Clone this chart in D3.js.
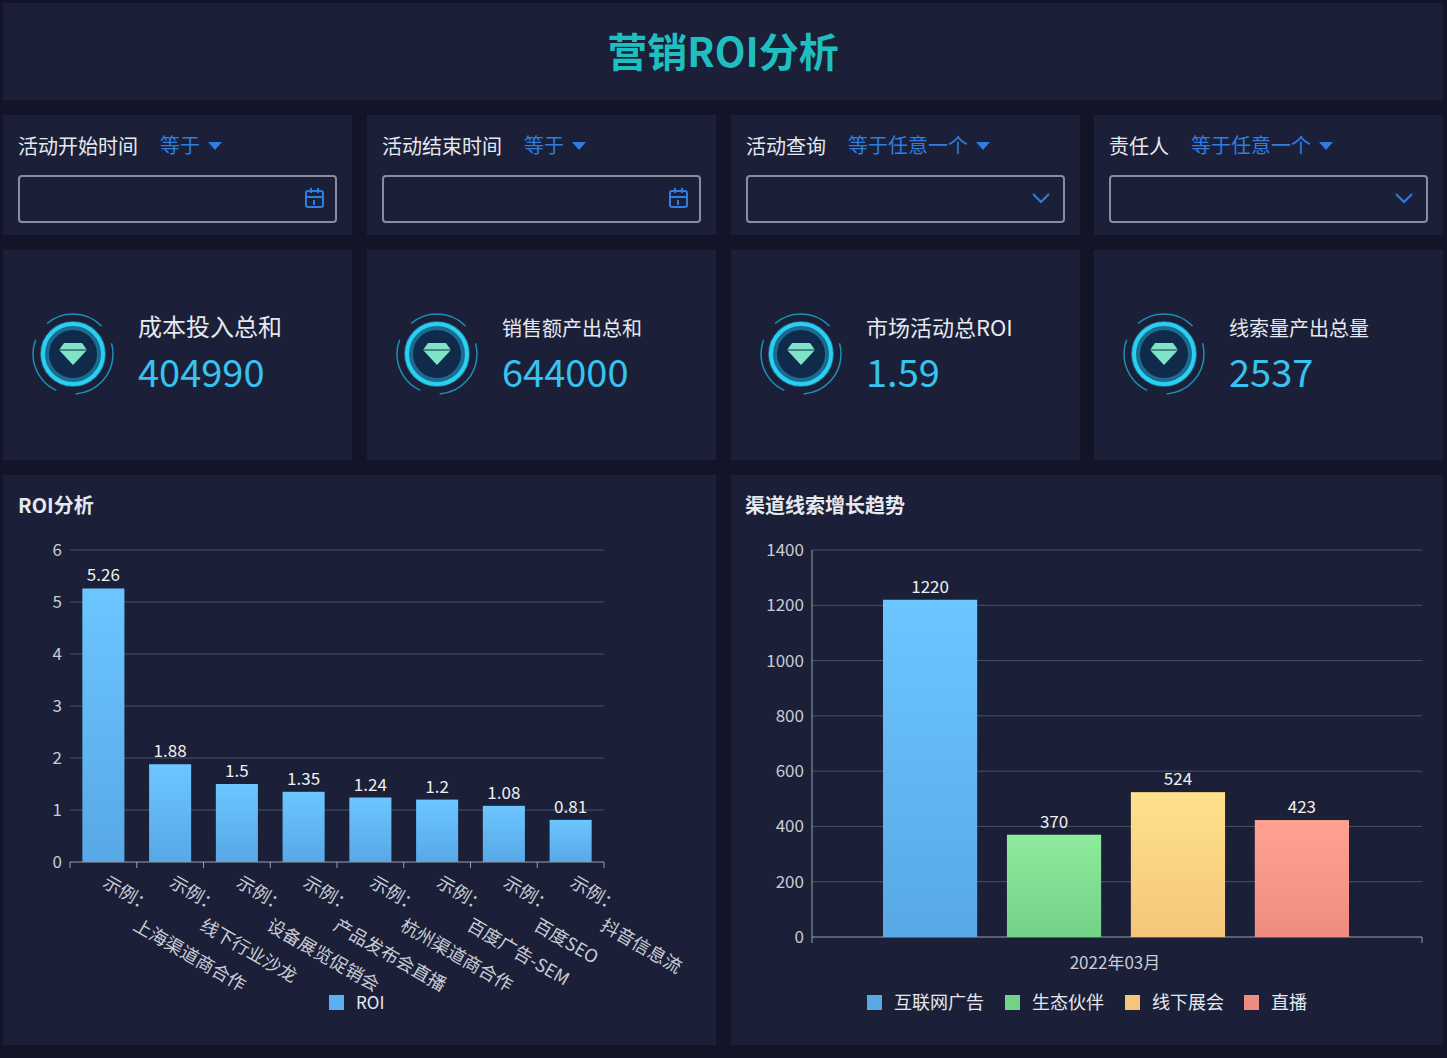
<!DOCTYPE html><html><head><meta charset="utf-8">
<script src="https://cdn.jsdelivr.net/npm/d3@7/dist/d3.min.js"></script>
<style>body{margin:0;background:#131427;font-family:"Noto Sans CJK SC","Noto Sans",sans-serif}</style></head><body>
<svg id="c" width="1447" height="1058"></svg>
<script>
const roiCats=["上海渠道商合作","线下行业沙龙","设备展览促销会","产品发布会直播","杭州渠道商合作","百度广告-SEM","百度SEO","抖音信息流"];
const roiVals=[5.26,1.88,1.5,1.35,1.24,1.2,1.08,0.81];
const roiTicks=[0,1,2,3,4,5,6];
const leadSeries=["互联网广告","生态伙伴","线下展会","直播"];
const leadVals=[1220,370,524,423];
const leadMonth=["2022年03月"];
const leadTicks=[0,200,400,600,800,1000,1200,1400];
const filters=[["活动开始时间","等于","cal"],["活动结束时间","等于","cal"],["活动查询","等于任意一个","dd"],["责任人","等于任意一个","dd"]];
const kpis=[["成本投入总和","404990",24],["销售额产出总和","644000",20],["市场活动总ROI","1.59",22],["线索量产出总量","2537",20]];
const colors=[["#6cc6ff","#58a8e6"],["#8eea9c","#72d288"],["#ffe18c","#f4c679"],["#ffa291","#ee8d7f"]];

const svg=d3.select("#c");
const panel="#1b2038";
const defs=svg.append("defs");
colors.forEach((c,i)=>{const g=defs.append("linearGradient").attr("id","g"+i).attr("x1",0).attr("y1",0).attr("x2",0).attr("y2",1);
g.append("stop").attr("offset",0).attr("stop-color",c[0]);g.append("stop").attr("offset",1).attr("stop-color",c[1]);});
svg.append("rect").attr("x",3).attr("y",3).attr("width",1440).attr("height",97).attr("fill",panel);
svg.append("text").attr("x",723).attr("y",67).attr("text-anchor","middle").attr("fill","#1fbfbf").attr("font-size",40).attr("font-weight","bold").text("营销ROI分析");
const colX=[3,367,731,1094],colW=349;
filters.forEach((f,i)=>{const x=colX[i];
svg.append("rect").attr("x",x).attr("y",115).attr("width",colW).attr("height",120).attr("fill",panel);
const t=svg.append("text").attr("x",x+15).attr("y",154).attr("font-size",20).attr("fill","#e6e8ef").text(f[0]);
const w=t.node().getComputedTextLength();
const t2=svg.append("text").attr("x",x+15+w+22).attr("y",153).attr("font-size",20).attr("fill","#2f7de1").text(f[1]);
const w2=t2.node().getComputedTextLength();
const ax=x+15+w+22+w2+8;
svg.append("path").attr("d",`M${ax},142 l14,0 l-7,8 z`).attr("fill","#2f7de1");
svg.append("rect").attr("x",x+16).attr("y",176).attr("width",317).attr("height",46).attr("rx",3).attr("fill","none").attr("stroke","#8a8e9c").attr("stroke-width",2);
if(f[2]=="cal"){const cx=x+303,cy=191;svg.append("rect").attr("x",cx).attr("y",cy).attr("width",17).attr("height",16).attr("rx",2).attr("fill","none").attr("stroke","#2f7de1").attr("stroke-width",2);
svg.append("path").attr("d",`M${cx},${cy+6}h17M${cx+5},${cy-3}v5M${cx+12},${cy-3}v5M${cx+8},${cy+9}v5`).attr("stroke","#2f7de1").attr("stroke-width",2);}
else svg.append("path").attr("d",`M${x+302},194 l8,8 l8,-8`).attr("fill","none").attr("stroke","#2f7de1").attr("stroke-width",2);
});
kpis.forEach((k,i)=>{const x=colX[i];
svg.append("rect").attr("x",x).attr("y",250).attr("width",colW).attr("height",210).attr("fill",panel);
const cx=x+70,cy=354;
svg.append("circle").attr("cx",cx).attr("cy",cy).attr("r",40).attr("fill","none").attr("stroke","#1a8fb8").attr("stroke-width",1.5).attr("stroke-dasharray","60 20");
svg.append("circle").attr("cx",cx).attr("cy",cy).attr("r",33).attr("fill","#1a6b8f");
svg.append("circle").attr("cx",cx).attr("cy",cy).attr("r",30).attr("fill","none").attr("stroke","#2ad0f0").attr("stroke-width",4);
svg.append("circle").attr("cx",cx).attr("cy",cy).attr("r",24).attr("fill","#0f2a4a");
svg.append("path").attr("d",`M${cx-14},${cy-4} l5,-7 h18 l5,7 l-14,15 z`).attr("fill","#7fe3c8");
svg.append("path").attr("d",`M${cx-14},${cy-4} h28`).attr("stroke","#0f2a4a").attr("stroke-width",1);
svg.append("text").attr("x",x+135).attr("y",336).attr("font-size",k[2]).attr("fill","#e6e8ef").text(k[0]);
svg.append("text").attr("x",x+135).attr("y",387).attr("font-size",38).attr("fill","#36c3ef").text(k[1]);
});
// panels
[[3,713],[731,712]].forEach(p=>svg.append("rect").attr("x",p[0]).attr("y",475).attr("width",p[1]).attr("height",570).attr("fill",panel));
svg.append("text").attr("x",18).attr("y",513).attr("font-size",20).attr("font-weight","bold").attr("fill","#e6e8ef").text("ROI分析");
svg.append("text").attr("x",745).attr("y",513).attr("font-size",20).attr("font-weight","bold").attr("fill","#e6e8ef").text("渠道线索增长趋势");
const axisCol="#9aa0ae",lab="#c8ccd6";
// left chart
const x1=d3.scaleBand().domain(roiCats).range([70,604]).paddingInner(0.37).paddingOuter(0.185);
const y1=d3.scaleLinear().domain([0,6]).range([862,550]);
const g1=svg.append("g");
roiTicks.forEach(t=>{ if(t>0) g1.append("line").attr("x1",70).attr("x2",604).attr("y1",y1(t)).attr("y2",y1(t)).attr("stroke","#4a5066");
g1.append("text").attr("x",62).attr("y",y1(t)+6).attr("text-anchor","end").attr("font-size",17).attr("fill",lab).text(t);});
g1.append("line").attr("x1",70).attr("x2",604).attr("y1",862).attr("y2",862).attr("stroke",axisCol);
const step=534/8;
for(let i=0;i<=8;i++) g1.append("line").attr("x1",70+i*step).attr("x2",70+i*step).attr("y1",862).attr("y2",868).attr("stroke",axisCol);
roiCats.forEach((c,i)=>{
g1.append("rect").attr("x",x1(c)).attr("y",y1(roiVals[i])).attr("width",x1.bandwidth()).attr("height",862-y1(roiVals[i])).attr("fill","url(#g0)");
g1.append("text").attr("x",x1(c)+x1.bandwidth()/2).attr("y",y1(roiVals[i])-7).attr("text-anchor","middle").attr("font-size",17).attr("fill","#f0f0f0").text(roiVals[i]);
const lx=70+step*(i+0.5)-2,ly=886;
const t=g1.append("text").attr("transform",`translate(${lx},${ly}) rotate(30)`).attr("font-size",18).attr("fill",lab);
t.append("tspan").attr("x",0).attr("y",0).text("示例：");
t.append("tspan").attr("x",48).attr("y",22).text(c);
});
svg.append("rect").attr("x",329).attr("y",995).attr("width",15).attr("height",15).attr("fill","#5ab0f0");
svg.append("text").attr("x",356).attr("y",1009).attr("font-size",17).attr("fill","#e6e8ef").text("ROI");
// right chart
const y2=d3.scaleLinear().domain([0,1400]).range([937,550]);
const x0=d3.scaleBand().domain(leadMonth).range([812,1422]);
const xs=d3.scaleBand().domain(leadSeries).range([883,1349]).paddingInner(0.24);
const g2=svg.append("g");
leadTicks.forEach(t=>{ if(t>0) g2.append("line").attr("x1",812).attr("x2",1422).attr("y1",y2(t)).attr("y2",y2(t)).attr("stroke","#4a5066");
g2.append("text").attr("x",804).attr("y",y2(t)+6).attr("text-anchor","end").attr("font-size",17).attr("fill",lab).text(t);});
g2.append("line").attr("x1",812).attr("x2",1422).attr("y1",937).attr("y2",937).attr("stroke",axisCol);
g2.append("line").attr("x1",812).attr("x2",812).attr("y1",937).attr("y2",943).attr("stroke",axisCol);
g2.append("line").attr("x1",1422).attr("x2",1422).attr("y1",937).attr("y2",943).attr("stroke",axisCol);
g2.append("line").attr("x1",812).attr("x2",812).attr("y1",550).attr("y2",937).attr("stroke",axisCol);
leadSeries.forEach((s,i)=>{
g2.append("rect").attr("x",xs(s)).attr("y",y2(leadVals[i])).attr("width",xs.bandwidth()).attr("height",937-y2(leadVals[i])).attr("fill",`url(#g${i})`);
g2.append("text").attr("x",xs(s)+xs.bandwidth()/2).attr("y",y2(leadVals[i])-7).attr("text-anchor","middle").attr("font-size",17).attr("fill","#f0f0f0").text(leadVals[i]);
});
g2.append("text").attr("x",x0(leadMonth[0])+x0.bandwidth()/2-2).attr("y",969).attr("text-anchor","middle").attr("font-size",17).attr("fill",lab).text(leadMonth[0]);
const lgX=[867,1005,1125,1244];
leadSeries.forEach((s,i)=>{
svg.append("rect").attr("x",lgX[i]).attr("y",995).attr("width",15).attr("height",15).attr("fill",colors[i][1]);
svg.append("text").attr("x",lgX[i]+27).attr("y",1009).attr("font-size",18).attr("fill","#e6e8ef").text(s);
});
</script></body></html>
